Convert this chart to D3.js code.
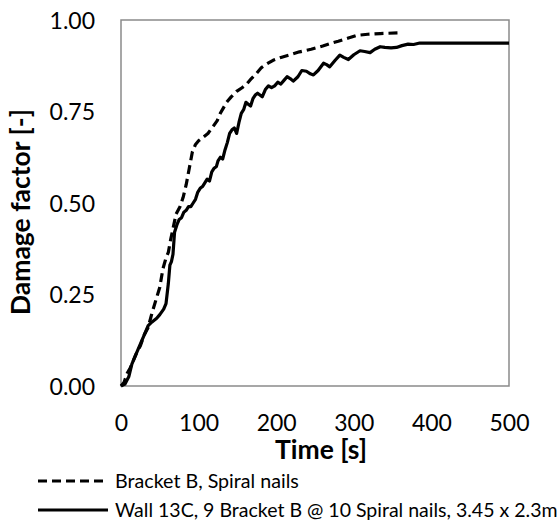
<!DOCTYPE html>
<html><head><meta charset="utf-8">
<script src="https://cdn.jsdelivr.net/npm/d3@7"></script>
<style>body{margin:0;background:#fff} svg{display:block}</style>
</head><body>
<svg id="c" width="560" height="521"></svg>
<script>
// ---- data ----
const seriesNames = ["Bracket B, Spiral nails", "Wall 13C, 9 Bracket B @ 10 Spiral nails, 3.45 x 2.3m"];
const bracketTime = [0,4,8,12,16,20,25,30,35,40,45,50,54,58,61,64,67,71,76,80,84,88,92,96,100,106,112,119,124,128,132,136,142,149,156,162,168,175,181,188,196,205,218,230,245,260,270,280,292,304,318,334,360];
const bracketDamage = [0,0.01,0.035,0.05,0.07,0.09,0.11,0.14,0.16,0.2,0.235,0.27,0.32,0.35,0.365,0.4,0.43,0.47,0.49,0.515,0.55,0.595,0.64,0.66,0.67,0.68,0.69,0.71,0.725,0.745,0.76,0.775,0.79,0.805,0.815,0.825,0.84,0.855,0.87,0.88,0.89,0.897,0.905,0.913,0.92,0.929,0.936,0.942,0.95,0.958,0.961,0.963,0.965];
const wallTime = [0,5,10,14,18,22,26,30,35,40,46,50,55,58,61,63,65,67,69,72,75,78,81,84,87,90,93,96,99,102,105,108,111,114,117,120,123,125,128,131,134,137,140,143,146,149,152,155,158,161,164,167,170,173,176,179,182,186,190,194,198,202,206,210,214,218,222,228,233,239,244,248,254,261,265,269,276,282,287,293,300,308,314,321,327,334,340,348,355,362,370,377,385,500];
const wallDamage = [0,0.005,0.025,0.06,0.08,0.1,0.12,0.14,0.165,0.175,0.185,0.195,0.21,0.225,0.28,0.33,0.34,0.36,0.42,0.44,0.455,0.46,0.475,0.48,0.49,0.49,0.5,0.51,0.53,0.54,0.545,0.555,0.565,0.56,0.585,0.595,0.6,0.615,0.625,0.62,0.645,0.665,0.69,0.7,0.705,0.69,0.72,0.745,0.755,0.775,0.77,0.765,0.785,0.795,0.8,0.795,0.79,0.81,0.82,0.815,0.82,0.83,0.825,0.835,0.845,0.84,0.833,0.845,0.862,0.86,0.853,0.85,0.862,0.882,0.878,0.872,0.89,0.904,0.898,0.892,0.905,0.916,0.914,0.911,0.92,0.927,0.925,0.924,0.925,0.93,0.934,0.933,0.937,0.937];
const xTicks = [0,100,200,300,400,500];
const yTicks = [0,0.25,0.5,0.75,1];
const xTitle = "Time [s]";
const yTitle = "Damage factor [-]";

// ---- layout ----
const L = 121, R = 509, T = 20, B = 386;
const FONT = "Lato, 'Open Sans', sans-serif";
const DASH = "9,5";
const svg = d3.select("#c");
const x = d3.scaleLinear().domain([0,500]).range([L,R]);
const y = d3.scaleLinear().domain([0,1]).range([B,T]);

function fit(sel, target){
  const w = sel.node().getComputedTextLength();
  const fs = parseFloat(sel.attr("font-size"));
  sel.attr("font-size", fs*target/w);
}

// frame
svg.append("rect").attr("x",L).attr("y",T).attr("width",R-L).attr("height",B-T)
  .attr("fill","none").attr("stroke","#8a8a8a").attr("stroke-width",1.5);

// axes
const yAxis = svg.append("g").attr("transform",`translate(${L},0)`)
  .call(d3.axisLeft(y).tickValues(yTicks).tickSize(0).tickPadding(26).tickFormat(d3.format(".2f")));
yAxis.select(".domain").remove();
yAxis.selectAll("text").attr("font-family",FONT).attr("font-size",23).attr("fill","#000").attr("dy","0.36em");

const xAxis = svg.append("g").attr("transform",`translate(0,${B})`)
  .call(d3.axisBottom(x).tickValues(xTicks).tickSize(0).tickPadding(0).tickFormat(d3.format("d")));
xAxis.select(".domain").remove();
xAxis.selectAll("text").attr("font-family",FONT).attr("font-size",23).attr("fill","#000").attr("dy",null).attr("y",45);

// titles
const xt = svg.append("text").attr("x",321).attr("y",459).attr("text-anchor","middle")
  .attr("font-family",FONT).attr("font-weight","bold").attr("font-size",24).text(xTitle);
fit(xt, 92);
const yt = svg.append("text").attr("transform","translate(30,212) rotate(-90)").attr("text-anchor","middle")
  .attr("font-family",FONT).attr("font-weight","bold").attr("font-size",24).text(yTitle);
fit(yt, 206);

// lines
const line = d3.line().x(d=>x(d[0])).y(d=>y(d[1]));
const bracket = bracketTime.map((t,i)=>[t,bracketDamage[i]]);
const wall = wallTime.map((t,i)=>[t,wallDamage[i]]);
svg.append("path").datum(wall).attr("d",line).attr("fill","none").attr("stroke","#000")
  .attr("stroke-width",3.2).attr("stroke-linejoin","round");
svg.append("path").datum(bracket).attr("d",line).attr("fill","none").attr("stroke","#000")
  .attr("stroke-width",3.2).attr("stroke-dasharray",DASH).attr("stroke-linejoin","round");

// legend
const legY = [481, 510];
const legStyles = [DASH, null];
seriesNames.forEach((name,i)=>{
  svg.append("line").attr("x1",38).attr("x2",108).attr("y1",legY[i]).attr("y2",legY[i])
    .attr("stroke","#000").attr("stroke-width",3.2).attr("stroke-dasharray",legStyles[i]);
  const t = svg.append("text").attr("x",115).attr("y",legY[i]+6.5).attr("font-family",FONT)
    .attr("font-size",18).attr("fill","#000").text(name);
  fit(t, i===0 ? 184 : 443);
});
</script>
</body></html>
